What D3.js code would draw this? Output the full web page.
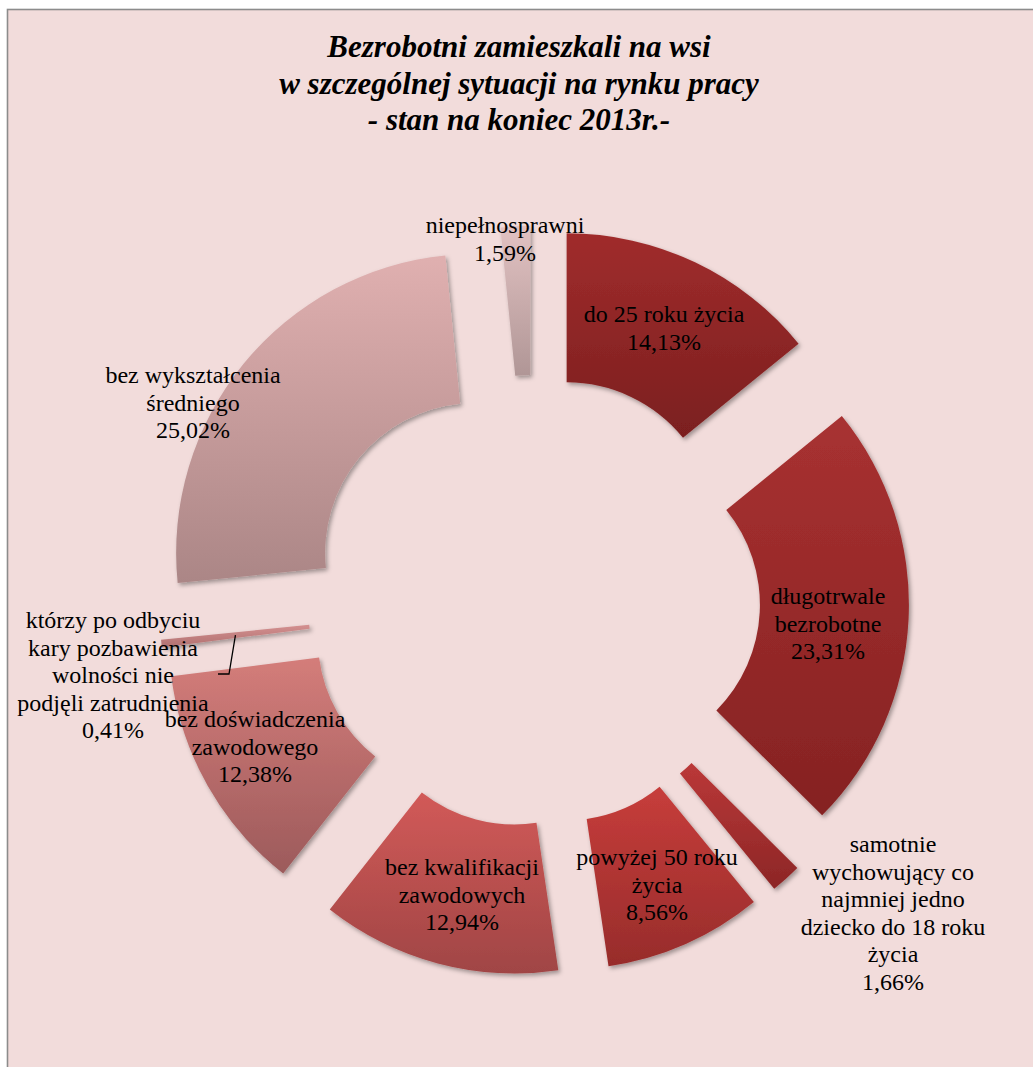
<!DOCTYPE html>
<html>
<head>
<meta charset="utf-8">
<script src="https://cdn.jsdelivr.net/npm/d3@7"></script>
<style>
  html, body { margin: 0; padding: 0; background: #ffffff; }
  svg { display: block; }
</style>
</head>
<body>
<svg id="chart" width="1033" height="1067"></svg>
<script>
// ---- data ----
const titleLines = [
  "Bezrobotni zamieszkali na wsi",
  "w szczególnej sytuacji na rynku pracy",
  "- stan na koniec 2013r.-"
];
const categories = [
  "do 25 roku życia",
  "długotrwale bezrobotne",
  "samotnie wychowujący co najmniej jedno dziecko do 18 roku życia",
  "powyżej 50 roku życia",
  "bez kwalifikacji zawodowych",
  "bez doświadczenia zawodowego",
  "którzy po odbyciu kary pozbawienia wolności nie podjęli zatrudnienia",
  "bez wykształcenia średniego",
  "niepełnosprawni"
];
const categoryLines = [
  ["do 25 roku życia"],
  ["długotrwale", "bezrobotne"],
  ["samotnie", "wychowujący co", "najmniej jedno", "dziecko do 18 roku", "życia"],
  ["powyżej 50 roku", "życia"],
  ["bez kwalifikacji", "zawodowych"],
  ["bez doświadczenia", "zawodowego"],
  ["którzy po odbyciu", "kary pozbawienia", "wolności nie", "podjęli zatrudnienia"],
  ["bez wykształcenia", "średniego"],
  ["niepełnosprawni"]
];
const values = [14.13, 23.31, 1.66, 8.56, 12.94, 12.38, 0.41, 25.02, 1.59];

// ---- styles / layout ----
const topColors    = ["#a02c2c", "#a83131", "#bb3838", "#c73d3b", "#d25a58", "#d47d7a", "#d49090", "#e0b0b0", "#e2c2c2"];
const bottomColors = ["#7b1f1f", "#852222", "#8c2626", "#972c2b", "#a04545", "#9c5a5b", "#b07070", "#ab8686", "#b09696"];
// label anchor: centre x and first baseline y
const labelAnchors = [
  [664, 322], [828, 604], [893, 852], [657, 865], [462, 875],
  [255, 727], [113, 628], [193, 383], [505, 233]
];
const lineHeight = 27.5;

const W = 1033, H = 1067;
const cx = 534, cy = 601, rInner = 150, rOuter = 299, explode = 76;

const svg = d3.select("#chart");
const defs = svg.append("defs");

const shadow = defs.append("filter").attr("id", "shadow")
  .attr("x", "-10%").attr("y", "-10%").attr("width", "130%").attr("height", "130%");
shadow.append("feDropShadow").attr("dx", 2).attr("dy", 2.5).attr("stdDeviation", 2)
  .attr("flood-color", "#000").attr("flood-opacity", 0.35);

values.forEach((v, i) => {
  const g = defs.append("linearGradient").attr("id", "grad" + i)
    .attr("x1", 0).attr("y1", 0).attr("x2", 0).attr("y2", 1);
  g.append("stop").attr("offset", "0%").attr("stop-color", topColors[i]);
  g.append("stop").attr("offset", "100%").attr("stop-color", bottomColors[i]);
});

// chart area
svg.append("rect").attr("x", 7.5).attr("y", 9.5).attr("width", W + 10).attr("height", H + 10)
  .attr("fill", "#f2dcdb").attr("stroke", "#8c8c8c").attr("stroke-width", 1.6);

// title
const title = svg.append("text")
  .attr("text-anchor", "middle")
  .attr("font-family", "'Liberation Serif', 'Times New Roman', serif")
  .attr("font-weight", "bold").attr("font-style", "italic")
  .attr("font-size", 31).attr("fill", "#000");
titleLines.forEach((t, i) => {
  title.append("tspan").attr("x", 519).attr("y", 57 + i * 36.5).text(t);
});

// doughnut
const pie = d3.pie().sort(null).value(d => d)
  .startAngle(0).endAngle(2 * Math.PI);
const arcs = pie(values);
const arc = d3.arc().innerRadius(rInner).outerRadius(rOuter);

function offset(d) {
  const a = (d.startAngle + d.endAngle) / 2;
  return [explode * Math.sin(a), -explode * Math.cos(a)];
}

const gPie = svg.append("g").attr("transform", `translate(${cx},${cy})`);
gPie.selectAll("path.slice").data(arcs).enter().append("path")
  .attr("class", "slice")
  .attr("transform", d => { const o = offset(d); return `translate(${o[0]},${o[1]})`; })
  .attr("d", arc)
  .attr("fill", (d, i) => `url(#grad${i})`)
  .attr("filter", "url(#shadow)");

// leader line for the tiny slice (index 6)
{
  const d = arcs[6];
  const o = offset(d);
  const c = arc.centroid(d);
  const sx = cx + o[0] + c[0], sy = cy + o[1] + c[1];
  const lx = labelAnchors[6][0], ly = labelAnchors[6][1];
  const path = d3.path();
  path.moveTo(sx, sy);
  path.lineTo(lx + 116, ly + 46);
  path.lineTo(lx + 105, ly + 46);
  svg.append("path").attr("d", path.toString())
    .attr("fill", "none").attr("stroke", "#000").attr("stroke-width", 1.3);
}

// labels
const fmt = v => d3.format(".2f")(v).replace(".", ",") + "%";
const gLab = svg.append("g")
  .attr("font-family", "'Liberation Serif', 'Times New Roman', serif")
  .attr("font-size", 24).attr("fill", "#000").attr("text-anchor", "middle");
arcs.forEach((d, i) => {
  const lines = categoryLines[i].concat([fmt(values[i])]);
  const t = gLab.append("text");
  lines.forEach((ln, k) => {
    t.append("tspan").attr("x", labelAnchors[i][0])
      .attr("y", labelAnchors[i][1] + k * lineHeight).text(ln);
  });
});
</script>
</body>
</html>
